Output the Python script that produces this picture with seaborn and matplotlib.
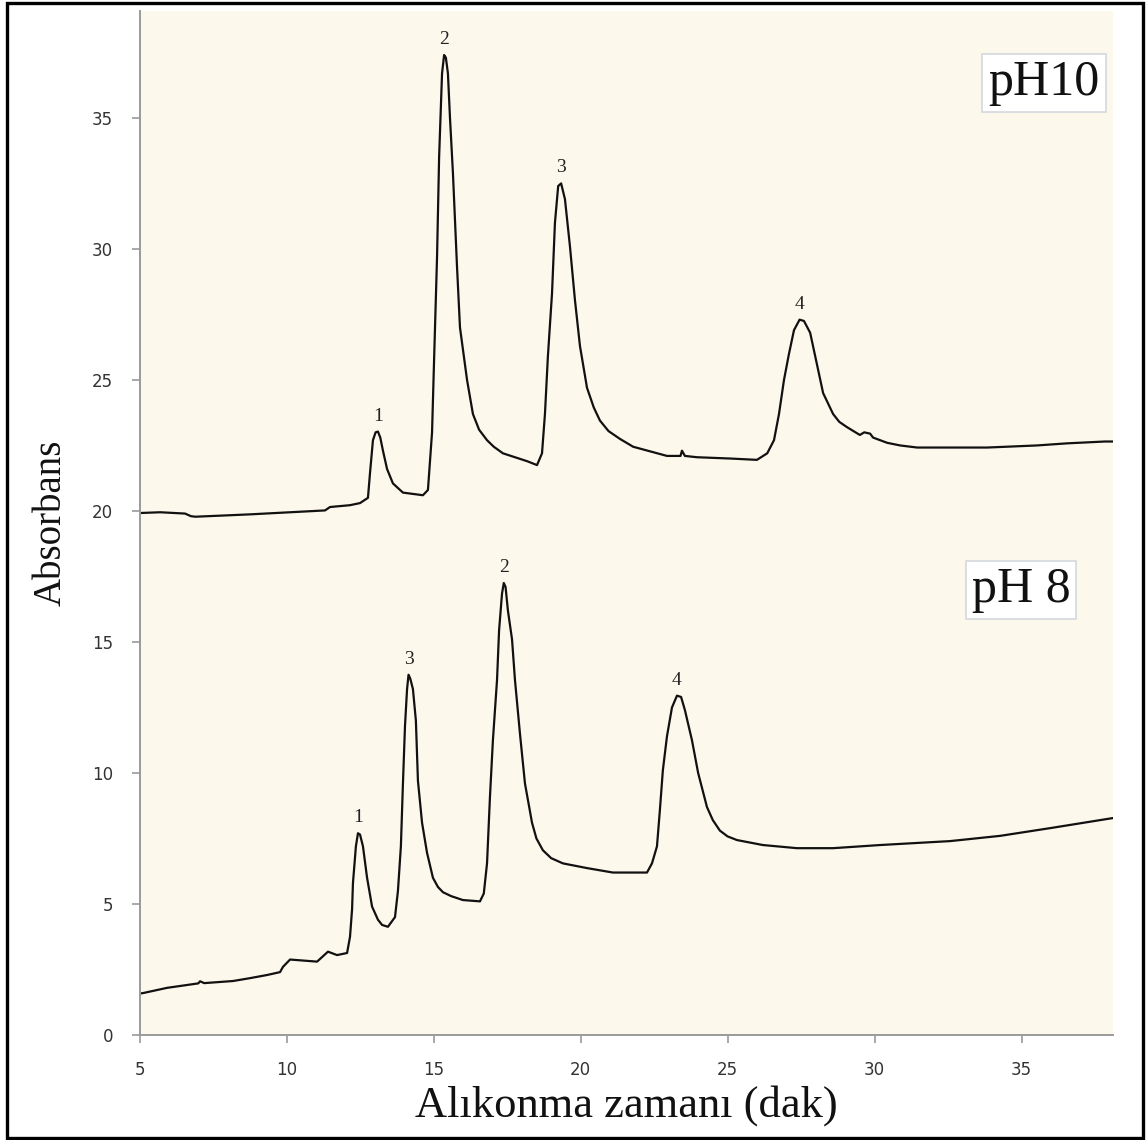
import numpy as np
import pandas as pd
import matplotlib
matplotlib.use("Agg")
import matplotlib.pyplot as plt
from matplotlib.patches import Rectangle
import seaborn as sns

# ---------------- data ----------------
ph10_x = [5.0, 5.70, 6.55, 6.75, 6.9, 7.74, 8.76, 10.46, 11.31, 11.48, 12.16, 12.5,
          12.77, 12.84, 12.94, 13.03, 13.11, 13.19, 13.28, 13.42, 13.62, 13.96, 14.64, 14.81,
          14.95, 15.02, 15.12, 15.19, 15.29, 15.36, 15.42, 15.49, 15.56, 15.66, 15.80,
          15.90, 16.14, 16.34, 16.55, 16.82, 17.05, 17.36, 18.18, 18.52, 18.69, 18.79, 18.89,
          19.03, 19.13, 19.24, 19.34, 19.47, 19.64, 19.81, 19.98, 20.22, 20.45, 20.66, 20.95, 21.34,
          21.79, 22.94, 23.4, 23.45, 23.55, 23.96, 25.1, 26.0, 26.35, 26.58,
          26.75, 26.92, 27.09, 27.26, 27.45, 27.6, 27.81, 28.04, 28.25, 28.59, 28.8, 29.06,
          29.5, 29.65, 29.85, 29.95, 30.43, 30.87, 31.45, 33.83, 35.53, 36.55,
          37.84, 38.11]
ph10_y = [19.92, 19.95, 19.9, 19.8, 19.78, 19.82, 19.87, 19.97, 20.02, 20.15, 20.22, 20.3,
          20.5, 21.45, 22.7, 23.0, 23.03, 22.8, 22.3, 21.6, 21.05, 20.7, 20.6, 20.8,
          23.0, 25.8, 29.7, 33.5, 36.7, 37.4, 37.3, 36.7, 35.0, 32.9, 29.3,
          27.0, 25.0, 23.7, 23.1, 22.7, 22.45, 22.2, 21.9, 21.75, 22.2, 23.7, 25.9,
          28.3, 31.0, 32.4, 32.5, 31.9, 30.1, 28.05, 26.3, 24.7, 23.95, 23.45, 23.05, 22.75,
          22.45, 22.1, 22.1, 22.3, 22.1, 22.05, 22.0, 21.95, 22.2, 22.7,
          23.7, 25.0, 26.0, 26.9, 27.3, 27.25, 26.8, 25.6, 24.5, 23.7, 23.4, 23.2,
          22.9, 23.0, 22.95, 22.8, 22.6, 22.5, 22.42, 22.42, 22.5, 22.58,
          22.65, 22.65]

ph8_x = [5.0, 5.12, 5.94, 7.0, 7.06, 7.2, 8.18, 8.76, 9.34, 9.78, 9.88, 10.12,
         11.04, 11.41, 11.72, 12.06, 12.16, 12.23, 12.26, 12.36, 12.43, 12.5, 12.6,
         12.74, 12.91, 13.11, 13.25, 13.45, 13.69, 13.79, 13.89, 13.96, 14.03, 14.1,
         14.15, 14.21, 14.3, 14.4, 14.47, 14.61, 14.78, 14.98, 15.15, 15.32, 15.6, 16.0, 16.58,
         16.71, 16.82, 16.92, 17.02, 17.16, 17.23, 17.33, 17.39, 17.45, 17.53, 17.67,
         17.77, 17.94, 18.11, 18.35, 18.5, 18.72, 19.0, 19.4, 20.22, 21.1, 22.26, 22.43,
         22.6, 22.7, 22.8, 22.94, 23.11, 23.28, 23.42, 23.55, 23.79, 24.0, 24.3, 24.5,
         24.74, 25.0, 25.32, 26.2, 27.36, 28.59, 30.19, 32.57, 34.27, 36.0, 38.11]
ph8_y = [1.58, 1.6, 1.8, 1.97, 2.05, 1.98, 2.06, 2.17, 2.29, 2.4, 2.6, 2.88,
         2.8, 3.18, 3.05, 3.13, 3.75, 4.8, 5.8, 7.2, 7.7, 7.65, 7.2,
         6.0, 4.9, 4.4, 4.2, 4.13, 4.5, 5.5, 7.2, 9.6, 11.8, 13.2,
         13.75, 13.6, 13.2, 12.0, 9.7, 8.1, 6.95, 6.0, 5.65, 5.45, 5.3, 5.15, 5.1,
         5.4, 6.55, 9.1, 11.25, 13.55, 15.45, 16.85, 17.25, 17.1, 16.2, 15.1,
         13.55, 11.5, 9.6, 8.1, 7.5, 7.05, 6.75, 6.55, 6.37, 6.2, 6.2, 6.55,
         7.2, 8.6, 10.1, 11.4, 12.5, 12.95, 12.9, 12.4, 11.25, 10.0, 8.7, 8.2,
         7.8, 7.58, 7.44, 7.25, 7.13, 7.13, 7.25, 7.4, 7.6, 7.9, 8.28]

ph10_peak_labels = ["1", "2", "3", "4"]
ph10_peak_x = [13.11, 15.36, 19.34, 27.45]
ph8_peak_labels = ["1", "3", "2", "4"]
ph8_peak_x = [12.43, 14.15, 17.39, 23.28]

series_labels = ["pH10", "pH 8"]
x_ticks = [5, 10, 15, 20, 25, 30, 35]
y_ticks = [0, 5, 10, 15, 20, 25, 30, 35]
x_label = "Alıkonma zamanı (dak)"
y_label = "Absorbans"

# ---------------- figure ----------------
sns.set_style("ticks")
plt.rcParams["font.family"] = ["DejaVu Sans"]

W, H = 1146, 1140
fig = plt.figure(figsize=(W / 100, H / 100), dpi=100)
fig.patch.set_facecolor("white")
ax = fig.add_axes([139.5 / W, 1 - 1035 / H, (1113 - 139.5) / W, (1035 - 11) / H])
ax.set_facecolor("#fdf8ec")

df = pd.concat([
    pd.DataFrame({"t": ph10_x, "a": ph10_y, "s": series_labels[0]}),
    pd.DataFrame({"t": ph8_x, "a": ph8_y, "s": series_labels[1]}),
])
sns.lineplot(data=df, x="t", y="a", hue="s", palette=["#111111", "#111111"],
             estimator=None, sort=False, legend=False, linewidth=1.6, ax=ax)

ax.set_xlim(5, 38.11)
ax.set_ylim(0, 39.08)
ax.set_xticks(x_ticks)
ax.set_yticks(y_ticks)
for sp in ["top", "right"]:
    ax.spines[sp].set_visible(False)
for sp in ["left", "bottom"]:
    ax.spines[sp].set_color("#9a9a9a")
    ax.spines[sp].set_linewidth(1.4)
ax.tick_params(axis="both", colors="#9a9a9a", labelcolor="#333333",
               labelsize=12, length=6, width=1.2, direction="out")
ax.tick_params(axis="x", pad=13)
ax.tick_params(axis="y", pad=13)

serif = ["Liberation Serif", "DejaVu Serif"]
ax.set_xlabel(x_label, family=serif, fontsize=32, color="#111111", labelpad=4)
ax.set_ylabel(y_label, family=serif, fontsize=28, color="#111111", labelpad=16)

# peak labels
for labs, xs, sx, sy in [(ph10_peak_labels, ph10_peak_x, ph10_x, ph10_y),
                         (ph8_peak_labels, ph8_peak_x, ph8_x, ph8_y)]:
    for lab, px in zip(labs, xs):
        py = float(np.interp(px, sx, sy))
        ax.annotate(lab, (px, py), xytext=(0, 5), textcoords="offset points",
                    ha="center", va="bottom", family=serif, fontsize=14,
                    color="#222222")

box = dict(boxstyle="square,pad=0.12", facecolor="white", edgecolor="#d4d8de", linewidth=1.2)
ax.text(0.929, 0.9297, series_labels[0], transform=ax.transAxes, ha="center", va="center",
        family=serif, fontsize=36, color="#111111", bbox=box)
ax.text(0.9055, 0.4346, series_labels[1], transform=ax.transAxes, ha="center", va="center",
        family=serif, fontsize=36, color="#111111", bbox=box)

# outer black frame
fig.patches.append(Rectangle((7 / W, 1 - 1138 / H), (1143 - 7) / W, (1138 - 3) / H,
                             transform=fig.transFigure, fill=False,
                             edgecolor="black", linewidth=2.4))

fig.savefig("out.png", dpi=100)
